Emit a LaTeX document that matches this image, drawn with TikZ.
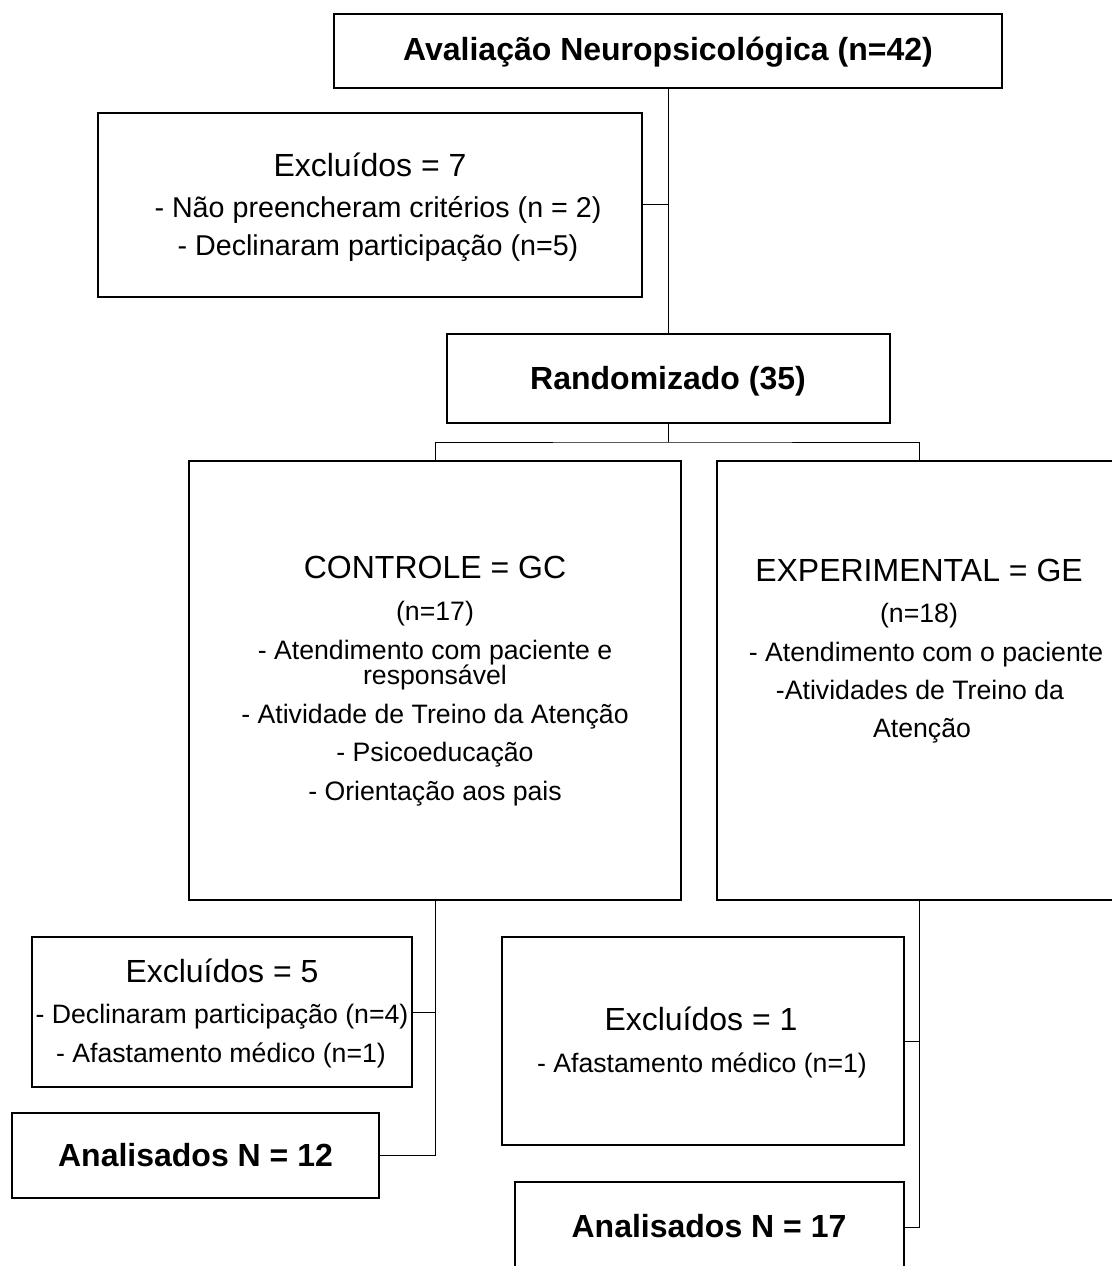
\documentclass[tikz,border=0pt]{standalone}
\usepackage{fontspec}
\setmainfont{Liberation Sans}

\tikzset{every picture/.style={line width=0.75pt}}
\tikzset{
  box/.style={draw, line width=1.5pt, inner sep=0pt, outer sep=0pt},
  link/.style={line width=0.75pt},
  big/.style={font=\fontsize{24}{28}\selectfont, inner sep=0pt, anchor=base},
  bigbf/.style={font=\bfseries\fontsize{24}{28}\selectfont, inner sep=0pt, anchor=base},
  mid/.style={font=\fontsize{21.5}{26}\selectfont, inner sep=0pt, anchor=base},
  small/.style={font=\fontsize{20}{24}\selectfont, inner sep=0pt, anchor=base},
}

\begin{document}
\begin{tikzpicture}[x=0.75pt,y=0.75pt,yscale=-1,xscale=1]
        \useasboundingbox (0,0) rectangle (1111,1266);

        % Boxes
        \node [box, minimum width=501pt, minimum height=55.5pt] (aval) at (668,51) {};
        \node [box, minimum width=408pt, minimum height=138pt] (excl7) at (370,205) {};
        \node [box, minimum width=332.25pt, minimum height=66.75pt] (rand) at (668,378.5) {};
        \node [box, minimum width=369pt, minimum height=329.25pt] (gc) at (435,680.5) {};
        \node [box, minimum width=303pt, minimum height=329.25pt] (ge) at (919,680.5) {};
        \node [box, minimum width=285pt, minimum height=112.5pt] (excl5) at (222,1012) {};
        \node [box, minimum width=275.25pt, minimum height=63.75pt] (ana12) at (195.5,1155.5) {};
        \node [box, minimum width=301.5pt, minimum height=156pt] (excl1) at (703,1041) {};
        \node [box, minimum width=291.75pt, minimum height=67.5pt] (ana17) at (709.5,1227) {};

        % Links
        \coordinate (split) at (668,442);
        \draw [link] (aval.south) -- (rand.north);
        \draw [link] (excl7.east) -- (excl7.east -| aval.south);
        \draw [link] (rand.south) -- (split);
        \draw [link] (gc.north) |- (split) -| (ge.north);
        \draw [link] (gc.south) |- (excl5.east);
        \draw [link] (gc.south) |- (ana12.east);
        \draw [link] (ge.south) |- (excl1.east);
        \draw [link] (ge.south) |- (ana17.east);

        % Text
        \draw (668,61) node [bigbf] (t-aval) {Avaliação Neuropsicológica (n=42)};

        \draw (370,177) node [big] (t-excl7) {Excluídos = 7};
        \draw (378,218) node [mid] (t-excl7a) {- Não preencheram critérios (n = 2)};
        \draw (378,256) node [mid] (t-excl7b) {- Declinaram participação (n=5)};

        \draw (668,389) node [bigbf] (t-rand) {Randomizado (35)};

        \draw (435,578) node [big] (t-gc) {CONTROLE = GC};
        \draw (435,620) node [small] (t-gcn) {(n=17)};
        \draw (435,659) node [small] (t-gca) {- Atendimento com paciente e};
        \draw (435,684) node [small] (t-gcb) {responsável};
        \draw (435,723) node [small] (t-gcc) {- Atividade de Treino da Atenção};
        \draw (435,761) node [small] (t-gcd) {- Psicoeducação};
        \draw (435,800) node [small] (t-gce) {- Orientação aos pais};

        \draw (919,581) node [big] (t-ge) {EXPERIMENTAL = GE};
        \draw (919,622) node [small] (t-gen) {(n=18)};
        \draw (926,661) node [small] (t-gea) {- Atendimento com o paciente};
        \draw (920,699) node [small] (t-geb) {-Atividades de Treino da};
        \draw (922,737) node [small] (t-gec) {Atenção};

        \draw (222,982) node [big] (t-excl5) {Excluídos = 5};
        \draw (222,1023) node [small] (t-excl5a) {- Declinaram participação (n=4)};
        \draw (221,1062) node [small] (t-excl5b) {- Afastamento médico (n=1)};

        \draw (195.5,1166) node [bigbf] (t-ana12) {Analisados N = 12};

        \draw (701,1030) node [big] (t-excl1) {Excluídos = 1};
        \draw (702,1072) node [small] (t-excl1a) {- Afastamento médico (n=1)};

        \draw (709,1237) node [bigbf] (t-ana17) {Analisados N = 17};

\end{tikzpicture}
\end{document}
